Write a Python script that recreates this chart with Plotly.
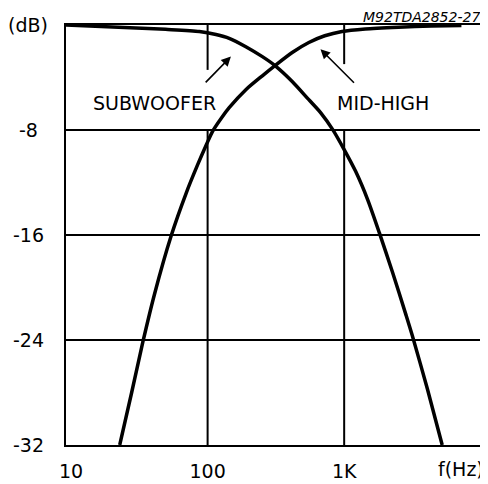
import plotly.graph_objects as go

# ---- data ----
sub_freq = [9.18, 49.2, 87.0, 115.1, 143.9, 190.5, 251.7, 311.4, 416.4, 551, 674, 824.6,
            1000, 1213, 1483, 1814, 2257, 2820, 3158, 4061, 5223]
sub_db = [0, -0.33, -0.49, -0.72, -1.01, -1.65, -2.41, -3.09, -4.30, -5.69, -6.69, -7.97,
          -9.49, -11.15, -13.28, -15.86, -18.82, -22.01, -23.68, -27.70, -32.0]

mid_freq = [22.72, 27.79, 33.59, 40.88, 54.10, 69.59, 84.13, 97.34, 108.7, 125.9, 143.9, 190.5,
            251.7, 311.4, 416.4, 551, 721.1, 963.9, 1427, 2496, 4364, 7222]
mid_db = [-32.0, -28.0, -24.13, -20.49, -16.06, -12.82, -10.70, -9.18, -8.10, -7.10, -6.30, -4.93,
          -3.87, -3.09, -2.09, -1.33, -0.82, -0.49, -0.30, -0.17, -0.08, -0.04]

x_tick_vals = [10, 100, 1000]
x_tick_text = ["10", "100", "1K"]
y_tick_vals = [0, -8, -16, -24, -32]
y_tick_text = ["(dB)", "-8", "-16", "-24", "-32"]

# vertical grid segments (broken around the labels)
vgrid_x = [100, 100, None, 100, 100, None, 1000, 1000, None, 1000, 1000]
vgrid_y = [0, -3.42, None, -8, -32, None, 0, -2.98, None, -8, -32]

FONT = "DejaVu Sans"

fig = go.Figure()

fig.add_trace(go.Scatter(x=vgrid_x, y=vgrid_y, mode="lines",
                         line=dict(color="black", width=2), hoverinfo="skip",
                         connectgaps=False))
fig.add_trace(go.Scatter(x=sub_freq, y=sub_db, mode="lines",
                         line=dict(color="black", width=3.5, shape="spline", smoothing=0.7),
                         name="SUBWOOFER"))
fig.add_trace(go.Scatter(x=mid_freq, y=mid_db, mode="lines",
                         line=dict(color="black", width=3.5, shape="spline", smoothing=0.7),
                         name="MID-HIGH"))

annotations = []
for v, t in zip(y_tick_vals, y_tick_text):
    annotations.append(dict(x=-0.0905, xref="paper", y=v, yref="y", text=t,
                            showarrow=False, xanchor="center", yanchor="middle",
                            font=dict(family=FONT, size=19, color="black")))

annotations += [
    dict(x=0.945, xref="paper", y=-0.058, yref="paper", text="f(Hz)", showarrow=False,
         xanchor="center", yanchor="middle", font=dict(family=FONT, size=19, color="black")),
    dict(x=0.995, xref="paper", y=0.996, yref="paper", text="<i>M92TDA2852-27</i>",
         showarrow=False, xanchor="right", yanchor="bottom",
         font=dict(family=FONT, size=14, color="black")),
    dict(x=0.2119, xref="paper", y=0.8152, yref="paper", text="SUBWOOFER", showarrow=False,
         xanchor="center", yanchor="middle", font=dict(family=FONT, size=19, color="black")),
    dict(x=0.7595, xref="paper", y=0.8152, yref="paper", text="MID-HIGH", showarrow=False,
         xanchor="center", yanchor="middle", font=dict(family=FONT, size=19, color="black")),
    dict(x=0.3945, xref="paper", y=0.9249, yref="paper", text="", showarrow=True,
         ax=-26.7, ay=27.3, arrowhead=2, arrowsize=1.2, arrowwidth=1.6, arrowcolor="black"),
    dict(x=0.6088, xref="paper", y=0.9424, yref="paper", text="", showarrow=True,
         ax=35, ay=35, arrowhead=2, arrowsize=1.2, arrowwidth=1.6, arrowcolor="black"),
]

fig.update_layout(
    width=480, height=476,
    margin=dict(l=58, r=2, t=17, b=37, pad=0),
    paper_bgcolor="white", plot_bgcolor="white",
    showlegend=False,
    annotations=annotations,
    xaxis=dict(type="log", range=[0.963, 4.024], tickvals=x_tick_vals, ticktext=x_tick_text,
               showgrid=False, zeroline=False, ticks="", showline=True, mirror=True,
               linecolor="black", linewidth=2, ticklabelstandoff=8,
               tickfont=dict(family=FONT, size=19, color="black")),
    yaxis=dict(range=[-32, 0], tickvals=y_tick_vals, showticklabels=False,
               showgrid=True, gridcolor="black", gridwidth=2, zeroline=False, ticks="",
               showline=True, mirror=True, linecolor="black", linewidth=2),
)

fig.write_html("out.html")
